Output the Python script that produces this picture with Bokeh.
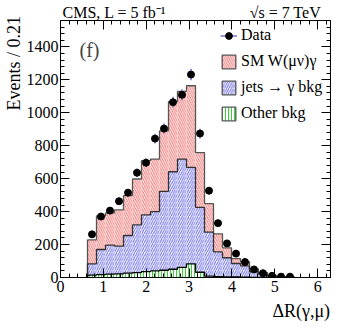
import numpy as np
from bokeh.plotting import figure
from bokeh.models import (LinearAxis, Label, Legend, LegendItem, Range1d,
                          SingleIntervalTicker, ColumnDataSource, CustomJSTickFormatter)
from bokeh.embed import file_html
from bokeh.resources import INLINE

# ---- data ----
bin_width = 0.21
bin_lo = [0.63, 0.84, 1.05, 1.26, 1.47, 1.68, 1.89, 2.10, 2.31, 2.52, 2.73, 2.94,
          3.15, 3.36, 3.57, 3.78, 3.99, 4.20, 4.41, 4.62, 4.83, 5.04, 5.25]
other_bkg = [15, 18, 20, 22, 26, 30, 36, 40, 44, 50, 62, 83, 32, 8, 5, 4, 3, 2, 1, 1, 0, 0, 0]
jets_bkg = [68, 152, 176, 168, 229, 290, 344, 360, 479, 592, 657, 586, 394, 267, 150, 116,
            82, 68, 34, 19, 8, 3, 1]
sm_wg = [145, 204, 196, 220, 242, 278, 329, 319, 367, 426, 411, 495, 332, 173, 110, 60,
         30, 25, 17, 10, 4, 2, 1]
data_obs = [262, 370, 406, 463, 515, 636, 697, 843, 904, 1064, 1109, 1232, 874, 527, 330,
            207, 145, 94, 49, 26, 10, 5, 5]

FONT = "Liberation Serif"
NBSP = "\u00a0"

lo = np.array(bin_lo)
hi = lo + bin_width
ctr = lo + bin_width / 2
g_top = np.array(other_bkg, dtype=float)
b_top = g_top + np.array(jets_bkg)
r_top = b_top + np.array(sm_wg)
d = np.array(data_obs, dtype=float)
err = np.sqrt(d)

def step_xy(top):
    xs, ys = [lo[0]], [0.0]
    for a, b, t in zip(lo, hi, top):
        xs += [a, b]
        ys += [t, t]
    xs.append(hi[-1]); ys.append(0.0)
    return xs, ys

p = figure(width=340, height=327, output_backend="svg", toolbar_location=None,
           x_range=Range1d(0, 6.3), y_range=Range1d(0, 1560),
           min_border_left=59, min_border_right=10, min_border_top=20, min_border_bottom=50)
p.background_fill_color = "white"
p.border_fill_color = "white"
p.outline_line_color = "black"
p.outline_line_width = 1
p.xgrid.visible = False
p.ygrid.visible = False

# header line as the title (left text, gap, right text)
p.title.text = "CMS, L = 5 fb⁻¹" + NBSP * 21 + "√s = 7 TeV"
p.title.align = "left"
p.title.offset = 2
p.title.standoff = 0
p.title.text_font = FONT
p.title.text_font_size = "16px"
p.title.text_font_style = "normal"
p.title.text_color = "black"

def style_axis(ax, labels=True):
    ax.major_tick_in = 9
    ax.major_tick_out = 0
    ax.minor_tick_in = 4
    ax.minor_tick_out = 0
    ax.axis_line_color = "black"
    ax.major_tick_line_color = "black"
    ax.minor_tick_line_color = "black"
    ax.major_label_text_font = FONT
    ax.major_label_text_font_size = "16px"
    ax.major_label_text_color = "black"
    if not labels:
        ax.formatter = CustomJSTickFormatter(code="return ''")
        ax.major_label_standoff = 0

p.xaxis.ticker = SingleIntervalTicker(interval=1, num_minor_ticks=5)
p.yaxis.ticker = SingleIntervalTicker(interval=200, num_minor_ticks=5)
style_axis(p.xaxis[0])
style_axis(p.yaxis[0])
p.xaxis.major_label_standoff = 3
p.yaxis.major_label_standoff = 2

# axis titles sit at the axis end (label centred there, padded so the text ends at the corner)
p.xaxis.axis_label = "ΔR(γ,μ)" + NBSP * 13
p.xaxis.axis_label_align = "end"
p.xaxis.axis_label_standoff = 6
p.xaxis.axis_label_text_font = FONT
p.xaxis.axis_label_text_font_size = "18px"
p.xaxis.axis_label_text_font_style = "normal"
p.xaxis.axis_label_text_color = "black"

p.yaxis.axis_label = "Events / 0.21" + NBSP * 19
p.yaxis.axis_label_align = "end"
p.yaxis.axis_label_standoff = 0
p.yaxis.axis_label_text_font = FONT
p.yaxis.axis_label_text_font_size = "18px"
p.yaxis.axis_label_text_font_style = "normal"
p.yaxis.axis_label_text_color = "black"

top_ax = LinearAxis(ticker=SingleIntervalTicker(interval=1, num_minor_ticks=5))
style_axis(top_ax, labels=False)
p.add_layout(top_ax, "above")
right_ax = LinearAxis(ticker=SingleIntervalTicker(interval=200, num_minor_ticks=5))
style_axis(right_ax, labels=False)
p.add_layout(right_ax, "right")

# ---- stacked histograms ----
red_hatch = dict(fill_color="white", hatch_pattern="\\", hatch_color="#f04848",
                 hatch_scale=4.5, hatch_weight=1, hatch_alpha=0.8)
blue_hatch = dict(fill_color="white", hatch_pattern="/", hatch_color="#4848e0",
                  hatch_scale=4.5, hatch_weight=1, hatch_alpha=0.8)
green_hatch = dict(fill_color="white", hatch_pattern="|", hatch_color="#22cc22",
                   hatch_scale=3, hatch_weight=1, hatch_alpha=0.9)

p.quad(left=lo, right=hi, bottom=b_top, top=r_top, line_color=None, **red_hatch)
p.quad(left=lo, right=hi, bottom=g_top, top=b_top, line_color=None, **blue_hatch)
p.quad(left=lo, right=hi, bottom=0, top=g_top, line_color=None, **green_hatch)

xs, ys = step_xy(r_top)
p.line(xs, ys, line_color="#555555", line_width=1.3)
xs, ys = step_xy(b_top)
p.line(xs, ys, line_color="#333333", line_width=1.3)
xs, ys = step_xy(g_top)
p.line(xs, ys, line_color="black", line_width=1.3)

# ---- data points ----
src = ColumnDataSource(dict(x=ctr, y=d, x0=ctr - 0.075, x1=ctr + 0.075,
                            y0=d - err, y1=d + err))
ebar_color = "#5555cc"
p.segment(x0="x0", y0="y", x1="x1", y1="y", source=src, line_color=ebar_color, line_width=1.2)
p.segment(x0="x", y0="y0", x1="x", y1="y1", source=src, line_color=ebar_color, line_width=1.2)
p.scatter(x="x", y="y", source=src, size=7, marker="circle", fill_color="black",
          line_color="black")

# ---- legend (dummy renderers carry the legend styles) ----
nan = [float("nan")]
lg_line = p.line(x=nan, y=nan, line_color=ebar_color, line_width=1.2)
lg_pt = p.scatter(x=nan, y=nan, size=7, marker="circle", fill_color="black", line_color="black")
lg_r = p.quad(left=nan, right=nan, bottom=nan, top=nan, line_color="#555555", line_width=1.3, **red_hatch)
lg_b = p.quad(left=nan, right=nan, bottom=nan, top=nan, line_color="#555555", line_width=1.3, **blue_hatch)
lg_g = p.quad(left=nan, right=nan, bottom=nan, top=nan, line_color="#555555", line_width=1.3, **green_hatch)

legend = Legend(items=[
    LegendItem(label="Data", renderers=[lg_line, lg_pt]),
    LegendItem(label="SM W(μν)γ", renderers=[lg_r]),
    LegendItem(label="jets → γ bkg", renderers=[lg_b]),
    LegendItem(label="Other bkg", renderers=[lg_g]),
], location=(160, 155))
legend.glyph_width = 17
legend.glyph_height = 17
legend.label_height = 17
legend.spacing = 8
legend.padding = 0
legend.margin = 0
legend.label_standoff = 4
legend.label_text_font = FONT
legend.label_text_font_size = "16px"
legend.label_text_color = "black"
legend.border_line_color = None
legend.background_fill_alpha = 0
p.add_layout(legend)

# ---- panel tag inside the frame ----
p.add_layout(Label(x=19, y=228, x_units="screen", y_units="screen", text="(f)",
                   text_align="left", text_baseline="middle", text_font=FONT,
                   text_font_size="20px"))

open("out.html", "w").write(file_html(p, INLINE))
